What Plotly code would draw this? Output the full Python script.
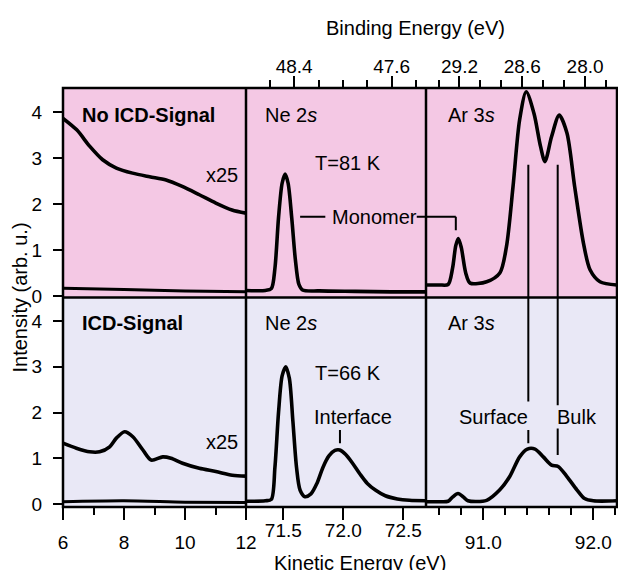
import plotly.graph_objects as go

# ---------------- data ----------------
# Panel 1: secondary electron background (x25 and unscaled)
noicd_bg_x = [6.0, 6.45, 6.88, 7.30, 7.75, 8.28, 8.84, 9.38, 9.91, 10.47, 11.01, 11.54, 12.0]
noicd_bg_y = [3.86, 3.61, 3.25, 2.96, 2.78, 2.67, 2.59, 2.52, 2.38, 2.20, 2.02, 1.87, 1.80]
noicd_raw_x = [6.0, 8.0, 10.0, 12.0]
noicd_raw_y = [0.17, 0.14, 0.11, 0.09]

icd_bg_x = [6.0, 6.44, 6.87, 7.20, 7.53, 7.75, 8.02, 8.29, 8.62, 8.89, 9.27, 9.54, 9.92, 10.47, 11.01, 11.55, 12.0]
icd_bg_y = [1.33, 1.22, 1.14, 1.14, 1.25, 1.44, 1.58, 1.47, 1.18, 0.96, 1.03, 1.00, 0.89, 0.78, 0.71, 0.63, 0.61]
icd_raw_x = [6.0, 8.0, 10.0, 12.0]
icd_raw_y = [0.05, 0.07, 0.04, 0.03]

# Panel 2: Ne 2s
ne81_x = [71.19, 71.35, 71.40, 71.43, 71.46, 71.49, 71.515, 71.54, 71.57, 71.60, 71.63, 71.66, 71.80, 72.10, 72.40, 72.69]
ne81_y = [0.12, 0.12, 0.16, 0.6, 1.7, 2.45, 2.65, 2.45, 1.7, 0.8, 0.25, 0.13, 0.11, 0.10, 0.09, 0.09]

ne66_x = [71.19, 71.35, 71.40, 71.43, 71.46, 71.49, 71.52, 71.55, 71.58, 71.61, 71.64, 71.68, 71.73, 71.78,
          71.83, 71.88, 71.93, 71.97, 72.02, 72.08, 72.14, 72.20, 72.27, 72.35, 72.45, 72.55, 72.69]
ne66_y = [0.06, 0.07, 0.10, 0.8, 2.0, 2.8, 3.0, 2.75, 1.8, 0.8, 0.3, 0.16, 0.22, 0.45,
          0.8, 1.05, 1.17, 1.18, 1.08, 0.88, 0.65, 0.45, 0.30, 0.18, 0.11, 0.08, 0.07]

# Panel 3: Ar 3s
ar81_x = [90.48, 90.60, 90.68, 90.72, 90.75, 90.773, 90.80, 90.84, 90.88, 91.03, 91.15, 91.21, 91.27, 91.33,
          91.39, 91.46, 91.52, 91.56, 91.62, 91.69, 91.76, 91.83, 91.91, 91.97, 92.06, 92.215]
ar81_y = [0.24, 0.24, 0.25, 0.6, 1.1, 1.25, 1.05, 0.5, 0.28, 0.31, 0.50, 1.07, 2.38, 3.83,
          4.44, 3.97, 3.25, 2.92, 3.46, 3.93, 3.54, 2.38, 1.15, 0.57, 0.31, 0.24]

ar66_x = [90.48, 90.60, 90.68, 90.72, 90.77, 90.82, 90.86, 91.03, 91.15, 91.24, 91.33, 91.40, 91.47,
          91.545, 91.62, 91.68, 91.76, 91.85, 91.92, 92.0, 92.215]
ar66_y = [0.05, 0.05, 0.06, 0.15, 0.23, 0.15, 0.07, 0.08, 0.31, 0.60, 1.03, 1.20, 1.20,
          1.03, 0.85, 0.82, 0.60, 0.31, 0.12, 0.07, 0.07]

# marker positions (kinetic energy, eV)
surface_ke = 91.409
bulk_ke = 91.676
interface_ke = 71.972
monomer_ar_ke = 90.75

# axis ranges / ticks
bg_range = [6, 12]
ne_range = [71.189, 72.689]
ar_range = [90.479, 92.215]
bg_ticks = [6, 8, 10, 12]
bg_minor = [7, 9, 11]
ne_ticks = [71.5, 72.0, 72.5]
ne_ticktext = ["71.5", "72.0", "72.5"]
ar_ticks = [91.0, 92.0]
ar_ticktext = ["91.0", "92.0"]
ar_minor = [90.6, 90.8, 91.2, 91.4, 91.6, 91.8, 92.2]
be_ne_range = [48.795, 47.318]
be_ne_ticks = [48.4, 47.6]
be_ne_minor = [48.6, 48.2, 48.0, 47.8, 47.4]
be_ar_range = [29.52, 27.695]
be_ar_ticks = [29.2, 28.6, 28.0]
be_ar_minor = [29.4, 29.0, 28.8, 28.4, 28.2, 27.8]
y_ticks = [0, 1, 2, 3, 4]
y_up_range = [-0.033, 4.52]
y_lo_range = [-0.066, 4.514]

# ---------------- figure ----------------
FONT = "Liberation Sans, Arial, Helvetica, sans-serif"
PINK = "rgb(244,200,228)"
LAV = "rgb(233,232,246)"
LW = 3.6

# the page body adds an 8 px offset; the figure is sized so the frame lands at 63..617 x 88..507
W, H = 618, 562
ML, MR, MT, MB = 55, 9, 80, 63
PW = W - ML - MR
PH = H - MT - MB

def px_x(p):  # screen pixel -> paper x
    return (p - 8 - ML) / PW

def px_y(p):  # screen pixel -> paper y
    return (H - MB - (p - 8)) / PH

d1 = px_x(246)
d2 = px_x(426)

fig = go.Figure()

def spec(x, y, xa, ya, w=LW):
    fig.add_trace(go.Scatter(x=x, y=y, xaxis=xa, yaxis=ya, mode="lines",
                             line=dict(color="black", width=w, shape="spline", smoothing=0.8),
                             hoverinfo="skip", showlegend=False))

# lower row: x/y, x2/y2, x3/y3 ; upper row: x4/y4, x5/y5, x6/y6
spec(icd_bg_x, icd_bg_y, "x", "y")
spec(icd_raw_x, icd_raw_y, "x", "y", 3)
spec(ne66_x, ne66_y, "x2", "y2")
spec(ar66_x, ar66_y, "x3", "y3")
spec(noicd_bg_x, noicd_bg_y, "x4", "y4")
spec(noicd_raw_x, noicd_raw_y, "x4", "y4", 3)
spec(ne81_x, ne81_y, "x5", "y5")
spec(ar81_x, ar81_y, "x6", "y6")
# empty traces to register the binding-energy top axes
fig.add_trace(go.Scatter(x=[], y=[], xaxis="x7", yaxis="y5", showlegend=False))
fig.add_trace(go.Scatter(x=[], y=[], xaxis="x8", yaxis="y6", showlegend=False))

tickfont = dict(family=FONT, size=19, color="black")
common_x = dict(showgrid=False, zeroline=False, showline=False, fixedrange=True, automargin=False)
common_y = dict(showgrid=False, zeroline=False, showline=False, fixedrange=True, automargin=False)
minor_style = dict(ticks="outside", ticklen=7, tickwidth=2, tickcolor="black")

layout = dict(
    width=W, height=H,
    margin=dict(l=ML, r=MR, t=MT, b=MB),
    paper_bgcolor="white", plot_bgcolor="rgba(0,0,0,0)",
    font=dict(family=FONT, size=20, color="black"),
    showlegend=False,
    # bottom kinetic energy axes
    xaxis=dict(common_x, domain=[0, d1], anchor="y", range=bg_range, tickvals=bg_ticks,
               ticks="outside", ticklen=12, tickwidth=2, tickcolor="black", tickfont=tickfont,
               ticklabelstandoff=6, minor=dict(minor_style, tickvals=bg_minor)),
    xaxis2=dict(common_x, domain=[d1, d2], anchor="y2", range=ne_range, tickvals=ne_ticks,
                ticktext=ne_ticktext, ticks="outside", ticklen=12, tickwidth=2, tickcolor="black",
                tickfont=tickfont, ticklabelstandoff=-6),
    xaxis3=dict(common_x, domain=[d2, 1], anchor="y3", range=ar_range, tickvals=ar_ticks,
                ticktext=ar_ticktext, ticks="outside", ticklen=12, tickwidth=2, tickcolor="black",
                tickfont=tickfont, ticklabelstandoff=6, minor=dict(minor_style, tickvals=ar_minor)),
    xaxis4=dict(common_x, domain=[0, d1], anchor="y4", range=bg_range, showticklabels=False, ticks=""),
    xaxis5=dict(common_x, domain=[d1, d2], anchor="y5", range=ne_range, showticklabels=False, ticks=""),
    xaxis6=dict(common_x, domain=[d2, 1], anchor="y6", range=ar_range, showticklabels=False, ticks=""),
    # top binding energy axes
    xaxis7=dict(common_x, overlaying="x5", anchor="y5", side="top", range=be_ne_range,
                tickvals=be_ne_ticks, ticktext=["48.4", "47.6"], ticks="outside", ticklen=11,
                tickwidth=2, tickcolor="black", tickfont=tickfont, ticklabelstandoff=-5,
                minor=dict(minor_style, tickvals=be_ne_minor)),
    xaxis8=dict(common_x, overlaying="x6", anchor="y6", side="top", range=be_ar_range,
                tickvals=be_ar_ticks, ticktext=["29.2", "28.6", "28.0"], ticks="outside", ticklen=11,
                tickwidth=2, tickcolor="black", tickfont=tickfont, ticklabelstandoff=-5,
                minor=dict(minor_style, tickvals=be_ar_minor)),
    # y axes
    yaxis=dict(common_y, domain=[0, 0.5], anchor="x", range=y_lo_range, tickvals=y_ticks,
               ticks="outside", ticklen=9, tickwidth=2, tickcolor="black", tickfont=tickfont,
               ticklabelstandoff=7),
    yaxis2=dict(common_y, domain=[0, 0.5], anchor="x2", range=y_lo_range, showticklabels=False, ticks=""),
    yaxis3=dict(common_y, domain=[0, 0.5], anchor="x3", range=y_lo_range, side="right", tickvals=y_ticks,
                ticks="outside", ticklen=8, tickwidth=2, tickcolor="black", showticklabels=False),
    yaxis4=dict(common_y, domain=[0.5, 1], anchor="x4", range=y_up_range, tickvals=y_ticks,
                ticks="outside", ticklen=9, tickwidth=2, tickcolor="black", tickfont=tickfont,
                ticklabelstandoff=7),
    yaxis5=dict(common_y, domain=[0.5, 1], anchor="x5", range=y_up_range, showticklabels=False, ticks=""),
    yaxis6=dict(common_y, domain=[0.5, 1], anchor="x6", range=y_up_range, side="right", tickvals=y_ticks,
                ticks="outside", ticklen=8, tickwidth=2, tickcolor="black", showticklabels=False),
)
fig.update_layout(**layout)

shapes = [
    # backgrounds
    dict(type="rect", xref="paper", yref="paper", x0=0, x1=1, y0=0.5, y1=1, fillcolor=PINK,
         line=dict(width=0), layer="below"),
    dict(type="rect", xref="paper", yref="paper", x0=0, x1=1, y0=0, y1=0.5, fillcolor=LAV,
         line=dict(width=0), layer="below"),
    # frames
    dict(type="rect", xref="paper", yref="paper", x0=0, x1=1, y0=0, y1=1,
         line=dict(color="black", width=2.5), layer="above"),
    dict(type="line", xref="paper", yref="paper", x0=0, x1=1, y0=0.5, y1=0.5,
         line=dict(color="black", width=2.5), layer="above"),
    dict(type="line", xref="paper", yref="paper", x0=d1, x1=d1, y0=0, y1=1,
         line=dict(color="black", width=2.5), layer="above"),
    dict(type="line", xref="paper", yref="paper", x0=d2, x1=d2, y0=0, y1=1,
         line=dict(color="black", width=2.5), layer="above"),
]
mk = dict(color="black", width=2)
# Surface / Bulk marker lines
shapes += [
    dict(type="line", xref="x6", yref="y6", x0=surface_ke, x1=surface_ke, y0=2.85, y1=y_up_range[0], line=mk),
    dict(type="line", xref="x6", yref="y6", x0=bulk_ke, x1=bulk_ke, y0=2.85, y1=y_up_range[0], line=mk),
    dict(type="line", xref="x3", yref="y3", x0=surface_ke, x1=surface_ke, y0=y_lo_range[1], y1=2.24, line=mk),
    dict(type="line", xref="x3", yref="y3", x0=bulk_ke, x1=bulk_ke, y0=y_lo_range[1], y1=2.16, line=mk),
    dict(type="line", xref="x3", yref="y3", x0=surface_ke, x1=surface_ke, y0=1.62, y1=1.33, line=mk),
    dict(type="line", xref="x3", yref="y3", x0=bulk_ke, x1=bulk_ke, y0=1.65, y1=1.07, line=mk),
    # Interface tick
    dict(type="line", xref="x2", yref="y2", x0=interface_ke, x1=interface_ke, y0=1.62, y1=1.33, line=mk),
    # Monomer bracket
    dict(type="line", xref="x5", yref="y5", x0=71.64, x1=71.85, y0=1.72, y1=1.72, line=mk),
    dict(type="line", xref="x5", yref="y5", x0=72.612, x1=ne_range[1], y0=1.72, y1=1.72, line=mk),
    dict(type="line", xref="x6", yref="y6", x0=ar_range[0], x1=monomer_ar_ke, y0=1.72, y1=1.72, line=mk),
    dict(type="line", xref="x6", yref="y6", x0=monomer_ar_ke, x1=monomer_ar_ke, y0=1.72, y1=1.43, line=mk),
]
fig.update_layout(shapes=shapes)

def ann(text, x, y, xref, yref, xanchor="left", yanchor="middle", bold=False, **kw):
    t = "<b>%s</b>" % text if bold else text
    return dict(text=t, x=x, y=y, xref=xref, yref=yref, xanchor=xanchor, yanchor=yanchor,
                showarrow=False, font=dict(family=FONT, size=20, color="black"), **kw)

annotations = [
    ann("No ICD-Signal", 6.56, 3.93, "x4", "y4", bold=True),
    ann("x25", 11.8, 2.63, "x4", "y4", xanchor="right"),
    ann("ICD-Signal", 6.56, 3.96, "x", "y", bold=True),
    ann("x25", 11.8, 1.36, "x", "y", xanchor="right"),
    ann("Ne 2<i>s</i>", 71.33, 3.93, "x5", "y5"),
    ann("T=81 K", 71.75, 2.88, "x5", "y5"),
    ann("Monomer", 72.256, 1.72, "x5", "y5", xanchor="center"),
    ann("Ne 2<i>s</i>", 71.33, 3.96, "x2", "y2"),
    ann("T=66 K", 71.75, 2.86, "x2", "y2"),
    ann("Interface", 72.083, 1.91, "x2", "y2", xanchor="center"),
    ann("Ar 3<i>s</i>", 90.66, 3.93, "x6", "y6"),
    ann("Ar 3<i>s</i>", 90.66, 3.96, "x3", "y3"),
    ann("Surface", 91.09, 1.91, "x3", "y3", xanchor="center"),
    ann("Bulk", 91.85, 1.91, "x3", "y3", xanchor="center"),
    # axis titles
    ann("Binding Energy (eV)", px_x(415), px_y(28), "paper", "paper", xanchor="center"),
    ann("Kinetic Energy (eV)", px_x(360), px_y(563), "paper", "paper", xanchor="center"),
    ann("Intensity (arb. u.)", px_x(19), 0.5, "paper", "paper", xanchor="center", textangle=-90),
]
fig.update_layout(annotations=annotations)

fig.write_html("out.html")
